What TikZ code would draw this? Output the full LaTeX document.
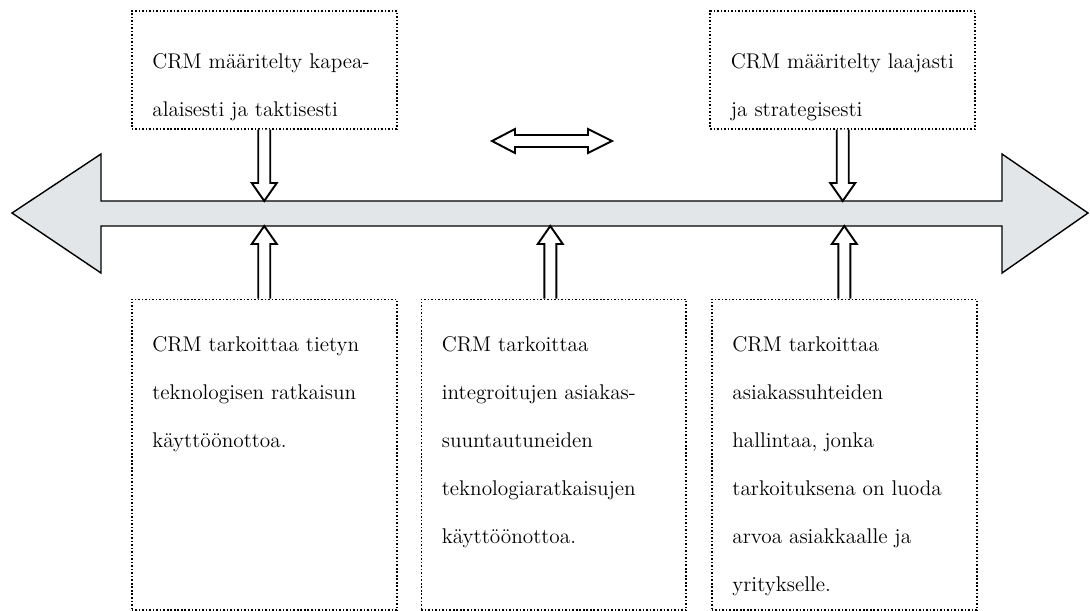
\documentclass[tikz,border=0pt]{standalone}
\usepackage{fontspec}
\usetikzlibrary{positioning,calc}
\definecolor{marble}{RGB}{226,230,233}
\tikzset{
box/.style = {draw, line width=0.9pt, dash pattern=on 0.9pt off 1.1pt, rectangle, inner sep=0pt, minimum width=5.3cm},
txt/.style = {align=left, inner sep=0pt, anchor=north west, font=\fontsize{12.1}{27.3}\selectfont},
axisline/.style = {draw, fill=marble, line width=0.8pt, line join=miter},
blk/.style = {draw, fill=white, line width=1.1pt, line join=miter},
blockto/.style = {to path={let \p1=(\tikztostart), \p2=(\tikztotarget) in
  (\x1-0.12cm,\y1) -- (\x1-0.12cm,\y2+#1) -- (\x1-0.25cm,\y2+#1) -- (\x1,\y2)
  -- (\x1+0.25cm,\y2+#1) -- (\x1+0.12cm,\y2+#1) -- (\x1+0.12cm,\y1)}}
}
\begin{document}
\begin{tikzpicture}[x=0.02cm, y=-0.02cm]
    \useasboundingbox (0,0) rectangle (1090,610);

    % the axis
    \draw [axisline] (12,213) -- (101,154) -- (101,201) -- (1002,201) -- (1002,154) -- (1088,213)
        -- (1002,273) -- (1002,226) -- (101,226) -- (101,273) -- cycle;
    \coordinate (axistop) at (0,201);
    \coordinate (axisbot) at (0,226);

    % boxes
    \node [box, minimum height=2.36cm, anchor=north west] (kapea) at (131,10) {};
    \node [box, minimum height=2.36cm, right=6.24cm of kapea] (laaja) {};
    \node [box, minimum height=6.22cm, below=3.38cm of kapea] (teknologia) {};
    \node [box, minimum height=6.22cm, right=0.46cm of teknologia] (integroitu) {};
    \node [box, minimum height=6.22cm, right=0.48cm of integroitu] (suhde) {};

    \node [txt] (kapeatxt) at ([shift={(21,43)}]kapea.north west) {CRM määritelty kapea-\\alaisesti ja taktisesti};
    \node [txt] (laajatxt) at ([shift={(21,43)}]laaja.north west) {CRM määritelty laajasti\\ja strategisesti};
    \node [txt] (teknologiatxt) at ([shift={(21,38)}]teknologia.north west) {CRM tarkoittaa tietyn\\teknologisen ratkaisun\\käyttöönottoa.};
    \node [txt] (integroitutxt) at ([shift={(21,38)}]integroitu.north west) {CRM tarkoittaa\\integroitujen asiakas-\\suuntautuneiden\\teknologiaratkaisujen\\käyttöönottoa.};
    \node [txt] (suhdetxt) at ([shift={(21,38)}]suhde.north west) {CRM tarkoittaa\\asiakassuhteiden\\hallintaa, jonka\\tarkoituksena on luoda\\arvoa asiakkaalle ja\\yritykselle.};

    % block arrows
    \draw [blk] (kapea.south) to[blockto=0.36cm] (kapea.south |- axistop);
    \draw [blk] (laaja.south) to[blockto=0.36cm] (laaja.south |- axistop);
    \draw [blk] (teknologia.north) to[blockto=-0.36cm] (teknologia.north |- axisbot);
    \draw [blk] ([xshift=-0.07cm]integroitu.north) to[blockto=-0.36cm] ([xshift=-0.07cm]integroitu.north |- axisbot);
    \draw [blk] (suhde.north) to[blockto=-0.36cm] (suhde.north |- axisbot);

    % both ways
    \draw [blk] (492,141) -- (515,129) -- (515,135) -- (588,135) -- (588,129) -- (612,141)
        -- (588,153) -- (588,147) -- (515,147) -- (515,153) -- cycle;
\end{tikzpicture}
\end{document}
